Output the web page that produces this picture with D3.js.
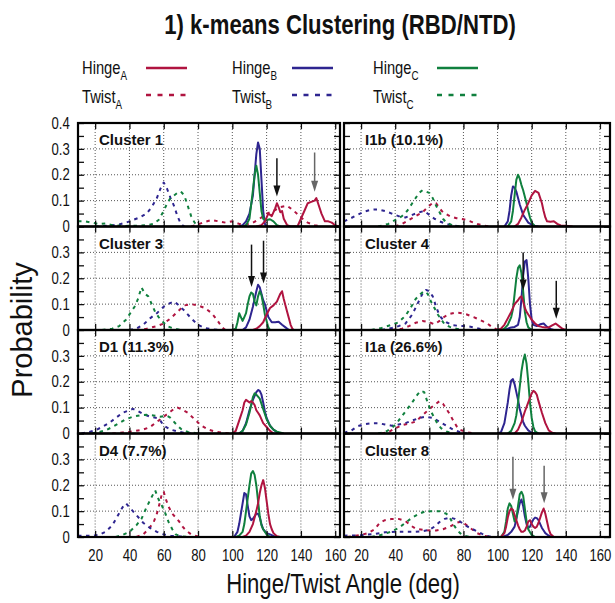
<!DOCTYPE html>
<html>
<head>
<meta charset="utf-8">
<title>k-means Clustering (RBD/NTD)</title>
<script src="https://cdnjs.cloudflare.com/ajax/libs/d3/7.8.5/d3.min.js"></script>
<style>
	body {margin: 0; background: #fff;}
	svg {display: block;}
	text {font-family: "Liberation Sans", Arial, sans-serif; fill: #111;}
	.title {font-weight: bold; font-size: 27px;}
	.plabel {font-weight: bold; font-size: 15px;}
	.legend {font-size: 18px;}
	.axlabel {font-size: 27px;}
	.ylabel {font-size: 29px;}
</style>
</head>
<body>
<div id="chart"></div>
<script>
// panel titles, left to right then top to bottom
var panelNames = ["Cluster 1", "I1b (10.1%)", "Cluster 3", "Cluster 4",
	"D1 (11.3%)", "I1a (26.6%)", "D4 (7.7%)", "Cluster 8"];
var xTicks = [20, 40, 60, 80, 100, 120, 140, 160];
var yTicks = [0, 0.1, 0.2, 0.3, 0.4];
var yMinor = [0.05, 0.15, 0.25, 0.35];
var seriesNames = ["Hinge", "Twist"];
var chainNames = ["A", "B", "C"];

// [angle, probability] for each curve
// Cluster 1
var c1HingeA = [[114,0],[117,0.005],[119,0.02],[121,0.05],[123,0.04],[125,0.07],[126,0.09],[127,0.075],[128,0.055],[129,0.06],[130,0.03],[132,0.005],[134,0],[138,0],[140,0.03],[142,0.06],[144,0.09],[146,0.095],[148,0.1],[149,0.11],[150,0.09],[152,0.05],[154,0.02],[156,0.02],[158,0.015],[160,0.005],[162,0]];
var c1HingeB = [[104,0],[106,0.005],[108,0.02],[110,0.05],[112,0.12],[113,0.2],[114,0.28],[115,0.325],[116,0.3],[117,0.18],[118,0.06],[119,0.01],[120,0]];
var c1HingeC = [[106,0],[108,0.005],[110,0.03],[112,0.14],[113,0.2],[114,0.235],[115,0.2],[116,0.13],[117,0.06],[118,0.03],[120,0.025],[122,0.028],[124,0.02],[126,0.005],[128,0]];
var c1TwistA = [[76,0],[80,0.008],[84,0.018],[88,0.025],[92,0.02],[96,0.015],[100,0.02],[104,0.01],[108,0.008],[112,0.015],[116,0.03],[120,0.05],[124,0.06],[128,0.075],[132,0.08],[136,0.06],[140,0.035],[144,0.015],[148,0.005],[152,0]];
var c1TwistB = [[20,0],[28,0.003],[34,0.008],[38,0.015],[42,0.025],[46,0.035],[50,0.05],[53,0.075],[56,0.11],[58,0.145],[60,0.17],[62,0.145],[64,0.11],[66,0.08],[68,0.04],[70,0.01],[72,0]];
var c1TwistC = [[10,0.02],[14,0.02],[18,0.015],[22,0.01],[26,0.012],[30,0.005],[36,0.002],[44,0.003],[50,0.005],[54,0.01],[57,0.025],[60,0.06],[62,0.09],[64,0.11],[66,0.12],[68,0.13],[70,0.135],[72,0.12],[74,0.08],[76,0.04],[78,0.015],[80,0.003],[82,0]];

// I1b
var i1bHingeA = [[110,0],[112,0.01],[114,0.035],[116,0.065],[118,0.09],[120,0.12],[122,0.138],[124,0.13],[125,0.11],[126,0.09],[127,0.06],[128,0.035],[129,0.02],[131,0.018],[133,0.02],[135,0.01],[137,0.004],[140,0.003],[144,0]];
var i1bHingeB = [[104,0],[106,0.02],[107,0.06],[108,0.12],[109,0.155],[110,0.15],[111,0.135],[112,0.11],[113,0.085],[114,0.065],[115,0.045],[116,0.035],[118,0.015],[120,0.007],[122,0.002],[124,0]];
var i1bHingeC = [[106,0],[108,0.02],[109,0.06],[110,0.12],[111,0.18],[112,0.2],[113,0.185],[114,0.16],[115,0.14],[116,0.115],[117,0.09],[118,0.06],[119,0.035],[120,0.015],[122,0]];
var i1bTwistA = [[40,0],[44,0.01],[48,0.025],[52,0.04],[56,0.055],[60,0.08],[62,0.092],[64,0.09],[66,0.07],[68,0.055],[72,0.04],[76,0.032],[80,0.028],[84,0.02],[88,0.01],[92,0.003],[96,0]];
var i1bTwistB = [[10,0.02],[14,0.032],[18,0.045],[22,0.058],[26,0.065],[30,0.066],[34,0.06],[38,0.05],[42,0.04],[46,0.035],[50,0.045],[54,0.055],[57,0.06],[60,0.045],[63,0.03],[66,0.02],[70,0.01],[74,0.004],[78,0]];
var i1bTwistC = [[30,0],[36,0.01],[40,0.025],[44,0.04],[47,0.06],[50,0.09],[52,0.11],[54,0.13],[56,0.14],[58,0.135],[60,0.13],[62,0.11],[64,0.08],[66,0.055],[68,0.03],[70,0.015],[74,0.003],[78,0]];

// Cluster 3
var c3HingeA = [[112,0],[114,0.005],[116,0.015],[118,0.03],[120,0.06],[122,0.085],[124,0.095],[126,0.11],[127,0.125],[128,0.14],[129,0.15],[130,0.12],[131,0.095],[132,0.07],[133,0.045],[134,0.02],[135,0.005],[136,0]];
var c3HingeB = [[106,0],[108,0.01],[110,0.04],[112,0.09],[114,0.15],[115,0.175],[116,0.165],[117,0.14],[118,0.115],[119,0.1],[120,0.075],[121,0.05],[123,0.03],[125,0.03],[127,0.032],[129,0.02],[131,0.01],[133,0]];
var c3HingeC = [[100,0],[102,0.005],[103,0.03],[104,0.065],[105,0.05],[106,0.035],[107,0.05],[108,0.065],[109,0.1],[110,0.13],[111,0.145],[112,0.14],[113,0.11],[114,0.095],[115,0.13],[116,0.15],[117,0.135],[118,0.1],[119,0.06],[120,0.035],[121,0.01],[122,0]];
var c3TwistA = [[44,0],[50,0.005],[56,0.015],[60,0.025],[64,0.045],[68,0.07],[72,0.095],[76,0.1],[80,0.095],[84,0.085],[88,0.065],[91,0.04],[94,0.01],[96,0]];
var c3TwistB = [[40,0],[44,0.005],[48,0.02],[52,0.045],[56,0.065],[60,0.09],[64,0.105],[66,0.11],[68,0.1],[72,0.075],[76,0.045],[80,0.02],[84,0.007],[88,0.003],[92,0]];
var c3TwistC = [[24,0],[30,0.005],[34,0.015],[38,0.04],[41,0.07],[43,0.09],[45,0.12],[47,0.165],[49,0.14],[51,0.13],[53,0.1],[55,0.07],[57,0.05],[59,0.035],[62,0.015],[66,0.005],[70,0]];

// Cluster 4
var c4HingeA = [[100,0],[102,0.005],[104,0.02],[106,0.045],[108,0.07],[110,0.1],[112,0.115],[113,0.125],[114,0.13],[115,0.11],[116,0.085],[117,0.07],[118,0.06],[120,0.04],[122,0.025],[124,0.015],[126,0.012],[128,0.01],[130,0.01],[132,0.018],[134,0.025],[136,0.015],[138,0.005],[140,0]];
var c4HingeB = [[104,0],[106,0.005],[108,0.01],[110,0.012],[112,0.02],[113,0.05],[114,0.12],[115,0.21],[116,0.265],[117,0.27],[118,0.2],[119,0.1],[120,0.04],[121,0.02],[123,0.015],[125,0.022],[127,0.025],[129,0.012],[131,0.004],[133,0]];
var c4HingeC = [[102,0],[104,0.005],[106,0.02],[108,0.05],[109,0.08],[110,0.14],[111,0.2],[112,0.24],[113,0.25],[114,0.22],[115,0.15],[116,0.07],[117,0.03],[118,0.01],[120,0]];
var c4TwistA = [[38,0],[44,0.005],[48,0.015],[52,0.028],[56,0.035],[60,0.03],[63,0.022],[66,0.035],[69,0.052],[72,0.062],[75,0.067],[78,0.066],[82,0.06],[86,0.05],[90,0.038],[94,0.025],[97,0.01],[100,0]];
var c4TwistB = [[32,0],[38,0.008],[42,0.015],[46,0.025],[50,0.06],[53,0.1],[56,0.14],[58,0.155],[60,0.15],[62,0.13],[64,0.09],[66,0.055],[68,0.04],[70,0.03],[74,0.018],[78,0.016],[82,0.015],[86,0.01],[90,0.004],[94,0]];
var c4TwistC = [[26,0],[32,0.008],[38,0.02],[42,0.03],[46,0.055],[49,0.085],[52,0.12],[55,0.14],[57,0.15],[59,0.14],[61,0.11],[63,0.085],[65,0.06],[67,0.04],[69,0.022],[72,0.012],[76,0.005],[80,0]];

// D1
var d1HingeA = [[100,0],[102,0.01],[104,0.05],[106,0.09],[107,0.12],[108,0.13],[109,0.125],[110,0.12],[111,0.125],[112,0.12],[113,0.11],[114,0.09],[115,0.08],[116,0.07],[118,0.04],[120,0.025],[122,0.01],[124,0]];
var d1HingeB = [[104,0],[106,0.01],[108,0.04],[110,0.09],[112,0.13],[114,0.16],[115,0.168],[116,0.165],[117,0.15],[118,0.12],[119,0.085],[120,0.06],[122,0.03],[124,0.015],[126,0.005],[128,0]];
var d1HingeC = [[104,0],[106,0.01],[108,0.035],[110,0.08],[112,0.14],[113,0.155],[114,0.15],[116,0.135],[118,0.095],[120,0.055],[122,0.03],[124,0.015],[126,0.007],[130,0]];
var d1TwistA = [[30,0],[36,0.004],[42,0.008],[48,0.015],[52,0.025],[56,0.045],[60,0.065],[64,0.085],[66,0.095],[68,0.1],[70,0.095],[74,0.08],[78,0.055],[82,0.03],[86,0.015],[90,0.007],[94,0.003],[98,0]];
var d1TwistB = [[12,0],[16,0.005],[20,0.012],[24,0.025],[28,0.04],[32,0.06],[36,0.08],[40,0.09],[42,0.095],[44,0.09],[48,0.075],[52,0.065],[56,0.06],[58,0.05],[60,0.03],[64,0.015],[68,0.008],[72,0.003],[76,0]];
var d1TwistC = [[18,0],[22,0.005],[26,0.012],[30,0.025],[34,0.04],[38,0.055],[42,0.065],[46,0.07],[50,0.072],[54,0.07],[58,0.065],[62,0.068],[64,0.06],[66,0.045],[68,0.03],[70,0.018],[74,0.006],[80,0]];

// I1a
var i1aHingeA = [[110,0],[112,0.015],[114,0.045],[116,0.085],[118,0.12],[120,0.155],[121,0.165],[122,0.16],[123,0.15],[124,0.125],[126,0.08],[128,0.04],[130,0.012],[132,0.003],[134,0]];
var i1aHingeB = [[100,0],[102,0.005],[104,0.04],[105,0.08],[106,0.12],[107,0.17],[108,0.205],[109,0.21],[110,0.19],[111,0.16],[112,0.13],[113,0.095],[114,0.07],[115,0.045],[116,0.03],[118,0.012],[120,0.003],[122,0]];
var i1aHingeC = [[106,0],[108,0.01],[110,0.04],[111,0.07],[112,0.12],[113,0.18],[114,0.24],[115,0.28],[116,0.305],[117,0.27],[118,0.2],[119,0.12],[120,0.06],[121,0.025],[122,0.008],[124,0]];
var i1aTwistA = [[32,0],[36,0.005],[40,0.02],[44,0.032],[48,0.038],[52,0.046],[56,0.07],[60,0.095],[63,0.11],[66,0.125],[68,0.115],[70,0.095],[72,0.075],[74,0.05],[76,0.028],[78,0.014],[82,0.005],[86,0]];
var i1aTwistB = [[10,0.003],[14,0.01],[18,0.028],[22,0.036],[26,0.04],[30,0.04],[34,0.035],[38,0.03],[42,0.035],[46,0.04],[50,0.05],[54,0.06],[58,0.065],[62,0.06],[66,0.045],[70,0.03],[74,0.015],[78,0.005],[82,0]];
var i1aTwistC = [[30,0],[34,0.005],[38,0.02],[42,0.05],[46,0.085],[50,0.12],[53,0.15],[55,0.165],[57,0.16],[59,0.12],[61,0.085],[63,0.06],[65,0.035],[67,0.02],[70,0.008],[74,0]];

// D4
var d4HingeA = [[106,0],[108,0.005],[110,0.02],[112,0.05],[114,0.1],[115,0.13],[116,0.17],[117,0.2],[118,0.22],[119,0.19],[120,0.14],[121,0.09],[122,0.05],[123,0.03],[124,0.015],[126,0.003],[128,0]];
var d4HingeB = [[101,0],[103,0.02],[104,0.05],[105,0.09],[106,0.13],[107,0.17],[108,0.165],[109,0.12],[110,0.08],[111,0.065],[112,0.07],[113,0.08],[114,0.09],[115,0.09],[116,0.075],[117,0.05],[118,0.03],[120,0.015],[122,0.01],[124,0.004],[126,0]];
var d4HingeC = [[102,0],[104,0.005],[106,0.02],[107,0.05],[108,0.1],[109,0.15],[110,0.2],[111,0.245],[112,0.255],[113,0.24],[114,0.2],[115,0.14],[116,0.08],[117,0.045],[118,0.03],[120,0.01],[122,0]];
var d4TwistA = [[44,0],[48,0.01],[51,0.03],[54,0.055],[56,0.09],[58,0.14],[59,0.17],[60,0.175],[61,0.15],[63,0.115],[65,0.09],[67,0.075],[69,0.06],[71,0.04],[73,0.025],[76,0.01],[80,0.002],[82,0]];
var d4TwistB = [[10,0.005],[14,0.005],[18,0.005],[22,0.008],[26,0.02],[30,0.045],[33,0.08],[36,0.115],[38,0.13],[40,0.115],[42,0.1],[44,0.085],[46,0.07],[48,0.055],[50,0.045],[52,0.035],[56,0.02],[60,0.01],[64,0.005],[70,0.002],[74,0]];
var d4TwistC = [[32,0],[36,0.008],[40,0.02],[44,0.045],[47,0.07],[50,0.115],[53,0.155],[55,0.18],[57,0.145],[59,0.12],[61,0.09],[63,0.055],[65,0.03],[67,0.01],[70,0.003],[74,0]];

// Cluster 8
var c8HingeA = [[102,0],[104,0.015],[105,0.04],[106,0.075],[107,0.1],[108,0.11],[109,0.105],[110,0.085],[111,0.065],[112,0.045],[113,0.03],[114,0.02],[115,0.02],[116,0.025],[117,0.04],[118,0.06],[119,0.065],[120,0.05],[121,0.04],[122,0.035],[123,0.04],[124,0.055],[125,0.075],[126,0.095],[127,0.11],[128,0.09],[129,0.06],[130,0.03],[131,0.012],[133,0]];
var c8HingeB = [[102,0],[104,0.003],[106,0.008],[108,0.02],[110,0.04],[111,0.07],[112,0.1],[113,0.13],[114,0.145],[115,0.12],[116,0.08],[117,0.05],[118,0.035],[119,0.04],[120,0.055],[121,0.068],[122,0.075],[123,0.073],[124,0.065],[125,0.05],[126,0.035],[127,0.025],[128,0.015],[130,0.005],[132,0]];
var c8HingeC = [[102,0],[104,0.02],[105,0.06],[106,0.11],[107,0.13],[108,0.12],[109,0.09],[110,0.06],[111,0.07],[112,0.12],[113,0.165],[114,0.175],[115,0.16],[116,0.11],[117,0.06],[118,0.03],[120,0.008],[122,0]];
var c8TwistA = [[12,0],[16,0.004],[20,0.008],[24,0.015],[28,0.03],[31,0.055],[34,0.065],[38,0.07],[42,0.07],[46,0.062],[49,0.045],[52,0.032],[56,0.028],[60,0.025],[64,0.025],[68,0.03],[72,0.04],[76,0.055],[79,0.06],[82,0.045],[85,0.03],[88,0.015],[92,0.005],[96,0]];
var c8TwistB = [[10,0.005],[16,0.006],[22,0.008],[28,0.012],[34,0.018],[40,0.02],[46,0.02],[52,0.02],[56,0.022],[60,0.028],[63,0.04],[66,0.058],[69,0.07],[72,0.075],[75,0.07],[78,0.06],[81,0.045],[84,0.035],[88,0.022],[91,0.012],[94,0.004],[97,0]];
var c8TwistC = [[26,0],[30,0.005],[34,0.012],[38,0.022],[42,0.035],[46,0.055],[50,0.075],[54,0.09],[58,0.1],[62,0.1],[66,0.1],[70,0.09],[72,0.075],[74,0.05],[76,0.03],[78,0.015],[80,0.006],[84,0]];

// arrows: [angle, start probability, tip probability]
var c1Arrows = [[126, 0.264, 0.116], [148, 0.286, 0.134]];
var c3Arrows = [[111.2, 0.33, 0.166], [118.2, 0.345, 0.18]];
var c4Arrows = [[115, 0.30, 0.153], [134.4, 0.19, 0.043]];
var c8Arrows = [[109, 0.31, 0.144], [127.3, 0.275, 0.13]];

var panelCurves = [
	[c1HingeA, c1HingeB, c1HingeC, c1TwistA, c1TwistB, c1TwistC],
	[i1bHingeA, i1bHingeB, i1bHingeC, i1bTwistA, i1bTwistB, i1bTwistC],
	[c3HingeA, c3HingeB, c3HingeC, c3TwistA, c3TwistB, c3TwistC],
	[c4HingeA, c4HingeB, c4HingeC, c4TwistA, c4TwistB, c4TwistC],
	[d1HingeA, d1HingeB, d1HingeC, d1TwistA, d1TwistB, d1TwistC],
	[i1aHingeA, i1aHingeB, i1aHingeC, i1aTwistA, i1aTwistB, i1aTwistC],
	[d4HingeA, d4HingeB, d4HingeC, d4TwistA, d4TwistB, d4TwistC],
	[c8HingeA, c8HingeB, c8HingeC, c8TwistA, c8TwistB, c8TwistC]
];
var panelArrows = [c1Arrows, [], c3Arrows, c4Arrows, [], [], [], c8Arrows];

var colors = ["#b01440", "#2e2590", "#10803e"];
// a few arrows are printed lighter
var arrowShade = {"0-1": "#666", "7-0": "#666", "7-1": "#666"};

// the lettering is a condensed sans, so squeeze it horizontally
var squeeze = "scale(0.82,1)";

var width = 615, height = 603;
var svg = d3.select("#chart").append("svg")
	.attr("width", width)
	.attr("height", height);

function narrowText(parent, x, y, cls) {
	return parent.append("g")
		.attr("transform", "translate(" + x + "," + y + ")")
		.append("text")
		.attr("class", cls)
		.attr("transform", squeeze);
}

narrowText(svg, 340, 34, "title")
	.attr("text-anchor", "middle")
	.text("1) k-means Clustering (RBD/NTD)");

// legend: two rows (hinge / twist), three columns (chains)
var legendTextX = [82, 232, 373];
var legendLineX = [146, 292, 437];
seriesNames.forEach(function(s, si) {
	chainNames.forEach(function(c, ci) {
		var t = narrowText(svg, legendTextX[ci], si == 0 ? 74 : 103, "legend");
		t.append("tspan").text(s);
		t.append("tspan").attr("dy", 6).style("font-size", "12px").text(c);
		svg.append("line")
			.attr("x1", legendLineX[ci])
			.attr("x2", legendLineX[ci] + 41)
			.attr("y1", si == 0 ? 68 : 95)
			.attr("y2", si == 0 ? 68 : 95)
			.style("stroke", colors[ci])
			.style("stroke-width", 2.5)
			.style("stroke-dasharray", si == 0 ? null : "5,6.5");
	});
});

// panel geometry
var colRange = [[78, 340], [344, 610]];
var colMax = [162.8, 165.9];
var top0 = 123, rowH = 103.5;

var line = d3.line()
	.x(function(d) { return d[0]; })
	.y(function(d) { return d[1]; });

panelNames.forEach(function(name, i) {
	var col = i % 2, row = Math.floor(i / 2);
	var x = d3.scaleLinear().domain([10, colMax[col]]).range(colRange[col]);
	var y = d3.scaleLinear().domain([0, 0.4]).range([top0 + (row + 1) * rowH, top0 + row * rowH]);
	var x0 = colRange[col][0], x1 = colRange[col][1];
	var y0 = y(0.4), y1 = y(0);

	var g = svg.append("g");

	svg.append("clipPath").attr("id", "clip" + i)
		.append("rect")
		.attr("x", x0).attr("y", y0)
		.attr("width", x1 - x0).attr("height", y1 - y0);

	// dotted grid
	xTicks.forEach(function(t) {
		if (x(t) >= x1 - 1) return;
		g.append("line")
			.attr("x1", x(t)).attr("x2", x(t))
			.attr("y1", y0).attr("y2", y1)
			.style("stroke", "#555")
			.style("stroke-width", 1)
			.style("stroke-dasharray", "1,2");
	});
	[0.1, 0.2, 0.3].forEach(function(t) {
		g.append("line")
			.attr("x1", x0).attr("x2", x1)
			.attr("y1", y(t)).attr("y2", y(t))
			.style("stroke", "#555")
			.style("stroke-width", 1)
			.style("stroke-dasharray", "1,2");
	});

	// curves: twist (dashed) under hinge (solid)
	var curves = panelCurves[i];
	var cg = g.append("g").attr("clip-path", "url(#clip" + i + ")");
	[3, 4, 5, 1, 2, 0].forEach(function(k) {
		var pts = curves[k].map(function(d) { return [x(d[0]), y(d[1])]; });
		cg.append("path")
			.attr("d", line(pts))
			.style("fill", "none")
			.style("stroke", colors[k % 3])
			.style("stroke-width", 2)
			.style("stroke-linejoin", "round")
			.style("stroke-dasharray", k >= 3 ? "3.5,4.5" : null);
	});

	// arrows
	panelArrows[i].forEach(function(a, ai) {
		var c = arrowShade[i + "-" + ai] || "#111";
		var ax = x(a[0]), ya = y(a[1]), yb = y(a[2]);
		g.append("line")
			.attr("x1", ax).attr("x2", ax)
			.attr("y1", ya).attr("y2", yb - 9)
			.style("stroke", c)
			.style("stroke-width", 1.5);
		g.append("path")
			.attr("d", "M" + (ax - 3.5) + "," + (yb - 11) + "L" + (ax + 3.5) + "," + (yb - 11) + "L" + ax + "," + yb + "Z")
			.style("fill", c);
	});

	// ticks on all four sides, pointing inward
	var yMajor = row == 0 ? yTicks : yTicks.slice(0, 4);
	var fmt = function(d) { return d == 0 ? "0" : d3.format(".1f")(d); };
	var left = g.append("g").attr("transform", "translate(" + x0 + ",0)")
		.call(d3.axisLeft(y).tickValues(yMajor).tickSize(-6).tickPadding(10)
			.tickFormat(col == 0 ? fmt : function() { return ""; }));
	var right = g.append("g").attr("transform", "translate(" + x1 + ",0)")
		.call(d3.axisRight(y).tickValues(yTicks).tickSize(-6).tickFormat(""));
	var leftMinor = g.append("g").attr("transform", "translate(" + x0 + ",0)")
		.call(d3.axisLeft(y).tickValues(yMinor).tickSize(-6).tickFormat(""));
	var rightMinor = g.append("g").attr("transform", "translate(" + x1 + ",0)")
		.call(d3.axisRight(y).tickValues(yMinor).tickSize(-6).tickFormat(""));
	var xt = xTicks.filter(function(t) { return x(t) < x1 - 1; });
	var bottom = g.append("g").attr("transform", "translate(0," + y1 + ")")
		.call(d3.axisBottom(x).tickValues(xTicks).tickSize(-6).tickPadding(13)
			.tickFormat(row == 3 ? d3.format("d") : function() { return ""; }));
	var topAx = g.append("g").attr("transform", "translate(0," + y0 + ")")
		.call(d3.axisTop(x).tickValues(xt).tickSize(-6).tickFormat(""));

	[left, right, leftMinor, rightMinor, bottom, topAx].forEach(function(a) {
		a.select(".domain").remove();
		a.selectAll("line").style("stroke", "#111").style("stroke-width", 1.3);
		a.selectAll("text")
			.attr("transform", squeeze)
			.style("font-family", "'Liberation Sans', Arial, sans-serif")
			.style("font-size", "16px")
			.style("fill", "#111");
	});

	// frame
	g.append("rect")
		.attr("x", x0).attr("y", y0)
		.attr("width", x1 - x0).attr("height", y1 - y0)
		.style("fill", "none")
		.style("stroke", "#000")
		.style("stroke-width", 2.2);

	g.append("text")
		.attr("class", "plabel")
		.attr("x", x0 + 21)
		.attr("y", y0 + 22)
		.text(name);
});

// axis titles
svg.append("text")
	.attr("class", "ylabel")
	.attr("transform", "translate(32,330) rotate(-90)")
	.attr("text-anchor", "middle")
	.text("Probability");

narrowText(svg, 343, 593, "axlabel")
	.attr("text-anchor", "middle")
	.text("Hinge/Twist Angle (deg)");
</script>
</body>
</html>
